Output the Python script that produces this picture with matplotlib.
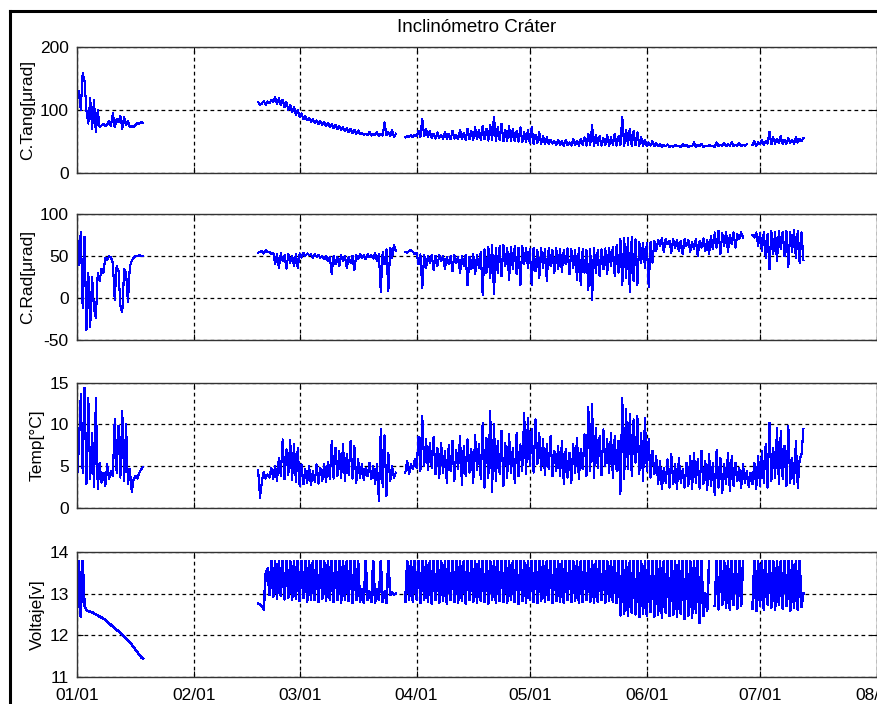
import numpy as np
import matplotlib
matplotlib.use('Agg')
import matplotlib.pyplot as plt
import matplotlib.dates as mdates
from matplotlib.lines import Line2D

nan = np.nan

# sampling: two readings per day, two recording periods
START1 = np.datetime64('2013-01-01T00:00')
START2 = np.datetime64('2013-02-18T00:00')
STEP_H = 12

# --- first period (01/01 - 01/18) ---
tang1 = [115, 130, 100, 158, 145, 99, 78, 118, 70, 115, 64, 100, 72, 75, 78, 74, 76, 82,
         74, 94, 72, 85, 80, 90, 70, 88, 75, 82, 72, 74, 73, 76, 79, 78, 80, 79]
rad1 = [77, 39, 79, -12, 73, -38, 30, -35, 25, -12, -24, 30, 20, 35, 30, 48, 45, 50,
        48, 42, -2, 38, 32, -10, -17, 35, 30, -5, 38, 44, 48, 50, 50, 51, 50, 50]
temp1 = [3.2, 7.4, 13.6, 4.2, 14.4, 2.8, 13.2, 3.4, 9.0, 2.5, 13.2, 2.2, 5.4, 3.0, 4.2, 2.6, 5.2, 3.4,
         4.4, 3.8, 10.6, 4.2, 9.8, 3.6, 11.6, 3.2, 10.0, 2.8, 4.6, 1.9, 3.4, 3.8, 3.5, 4.2, 4.6, 4.9]
volt1 = [12.50, 13.78, 12.45, 13.78, 12.70, 12.60, 12.58, 12.57, 12.55, 12.53, 12.50, 12.48,
         12.45, 12.43, 12.40, 12.37, 12.33, 12.29, 12.25, 12.21, 12.17, 12.13, 12.10, 12.06,
         12.02, 11.98, 11.93, 11.88, 11.83, 11.78, 11.72, 11.66, 11.60, 11.54, 11.48, 11.45]

# --- second period (02/18 - 07/12), rows of 10 days ---
tang2 = [
    112, 108, 110, 114, 108, 113, 110, 116, 112, 120, 109, 118, 108, 116, 104, 112, 100, 108, 96, 104,
    92, 100, 88, 94, 85, 90, 83, 87, 81, 85, 79, 83, 77, 82, 76, 80, 74, 79, 72, 77,
    71, 76, 69, 74, 68, 72, 66, 71, 64, 70, 63, 68, 62, 67, 61, 63, 60, 62, 60, 65,
    59, 61, 60, 64, 58, 62, 59, 80, 60, 64, 58, 68, 57, 62, nan, nan, nan, nan, 56, 58,
    57, 59, 56, 60, 58, 66, 57, 86, 58, 70, 56, 66, 55, 62, 54, 64, 55, 60, 54, 65,
    54, 62, 53, 66, 54, 60, 53, 68, 54, 63, 52, 70, 53, 66, 52, 72, 53, 68, 52, 74,
    53, 70, 51, 76, 52, 89, 51, 72, 52, 78, 50, 68, 51, 74, 50, 70, 50, 66, 49, 72,
    49, 64, 48, 68, 47, 72, 46, 60, 47, 64, 46, 58, 45, 56, 45, 52, 46, 50, 44, 52,
    44, 50, 43, 52, 44, 48, 43, 53, 44, 51, 43, 54, 44, 56, 43, 62, 44, 75, 43, 60,
    44, 58, 43, 55, 44, 60, 43, 56, 44, 62, 43, 58, 44, 89, 43, 68, 44, 70, 43, 66,
    44, 64, 43, 56, 43, 52, 42, 48, 43, 50, 42, 47, 42, 46, 41, 44, 42, 45, 41, 43,
    41, 44, 42, 43, 41, 45, 42, 44, 41, 43, 42, 48, 41, 44, 42, 46, 41, 43, 42, 44,
    42, 43, 41, 48, 42, 44, 43, 47, 42, 45, 43, 49, 42, 44, 43, 47, 42, 44, 43, 45,
    nan, nan, 44, 50, 43, 48, 45, 52, 44, 50, 46, 65, 45, 56, 46, 54, 47, 58, 45, 52,
    46, 55, 47, 52, 46, 56, 48, 54, 50, 55,
]
rad2 = [
    54, 55, 56, 53, 57, 55, 55, 52, 54, 40, 52, 36, 53, 44, 51, 35, 52, 42, 50, 38,
    52, 36, 53, 48, 54, 50, 53, 51, 52, 48, 52, 49, 51, 48, 50, 46, 50, 44, 49, 29,
    50, 40, 49, 38, 51, 44, 50, 36, 49, 42, 50, 33, 51, 46, 52, 48, 51, 46, 52, 49,
    51, 47, 53, 44, 52, 7, 55, 40, 58, 8, 60, 48, 63, 56, nan, nan, nan, nan, 55, 54,
    56, 57, 55, 52, 54, 40, 52, 12, 51, 36, 50, 42, 51, 33, 50, 38, 51, 44, 50, 35,
    49, 40, 50, 32, 51, 42, 49, 30, 50, 38, 51, 15, 49, 34, 52, 28, 51, 36, 55, 4,
    58, 30, 61, 24, 63, 5, 60, 30, 62, 26, 63, 38, 60, 22, 61, 34, 62, 28, 60, 15,
    62, 40, 60, 36, 58, 15, 60, 32, 57, 24, 59, 36, 58, 20, 60, 38, 57, 30, 59, 34,
    58, 31, 57, 40, 59, 28, 58, 36, 57, 22, 59, 15, 58, 30, 57, 10, 58, -2, 59, 30,
    57, 26, 58, 34, 59, 28, 60, 38, 61, 26, 63, 30, 70, 15, 72, 24, 71, 7, 73, 20,
    70, 15, 67, 42, 66, 36, 65, 13, 67, 42, 68, 56, 69, 62, 71, 55, 70, 64, 68, 54,
    70, 60, 69, 56, 68, 52, 70, 62, 69, 55, 67, 58, 70, 50, 68, 60, 71, 56, 69, 52,
    74, 58, 78, 60, 80, 52, 77, 62, 79, 55, 75, 64, 78, 60, 76, 70, 78, 72, nan, nan,
    nan, nan, 75, 72, 78, 62, 77, 56, 79, 48, 76, 34, 80, 52, 78, 44, 80, 58, 79, 50,
    80, 37, 78, 55, 81, 48, 80, 42, 78, 45,
]
temp2 = [
    4.5, 1.2, 3.2, 4.3, 3.5, 4.0, 3.6, 4.8, 3.5, 5.0, 3.2, 6.0, 3.8, 8.2, 3.4, 7.0, 3.9, 8.1, 3.3, 7.6,
    3.1, 7.2, 2.6, 5.2, 2.8, 4.6, 3.0, 5.0, 2.7, 4.4, 3.1, 5.2, 2.9, 4.8, 3.2, 5.3, 3.1, 5.5, 3.4, 8.0,
    3.5, 7.2, 3.8, 6.8, 3.6, 7.6, 3.2, 6.5, 3.9, 8.0, 3.5, 7.4, 3.0, 5.8, 3.6, 5.2, 3.3, 4.8, 3.8, 5.4,
    3.4, 5.0, 2.8, 5.3, 0.8, 9.5, 2.5, 8.7, 1.4, 6.6, 3.2, 5.0, 3.6, 4.2, nan, nan, nan, nan, 4.2, 5.6,
    4.0, 5.2, 4.6, 5.8, 4.8, 8.5, 4.4, 11.0, 5.0, 8.2, 4.5, 7.8, 4.8, 8.5, 4.0, 7.2, 3.6, 7.8, 4.2, 6.8,
    3.0, 7.5, 4.4, 8.0, 3.2, 6.9, 4.6, 8.6, 2.7, 7.4, 3.8, 8.2, 4.2, 7.0, 3.0, 8.7, 4.5, 7.6, 3.4, 10.2,
    2.4, 8.4, 3.6, 11.6, 1.9, 10.0, 3.2, 8.0, 4.0, 9.2, 2.6, 7.8, 3.6, 8.8, 4.2, 7.2, 3.0, 9.0, 3.8, 7.6,
    4.4, 11.4, 4.0, 10.8, 5.0, 9.5, 4.2, 10.6, 5.2, 9.0, 4.5, 8.2, 3.9, 7.6, 4.6, 8.6, 3.8, 6.8, 4.4, 7.4,
    3.8, 8.0, 2.8, 7.0, 3.6, 6.6, 3.0, 7.6, 4.2, 8.4, 3.4, 7.0, 4.6, 8.8, 3.8, 12.1, 4.4, 12.4, 3.6, 9.6,
    4.8, 8.6, 3.9, 9.4, 5.0, 8.2, 4.2, 9.0, 3.6, 8.6, 4.4, 8.0, 1.6, 13.2, 3.4, 11.8, 4.6, 11.2, 3.8, 10.6,
    5.4, 11.0, 4.0, 9.0, 3.2, 10.8, 4.4, 8.2, 3.6, 6.8, 4.0, 6.2, 2.8, 5.6, 2.2, 4.8, 3.0, 5.8, 2.4, 6.4,
    2.8, 5.2, 2.2, 6.0, 3.0, 4.6, 2.4, 5.4, 2.6, 6.2, 2.2, 6.6, 3.0, 5.8, 2.3, 6.8, 2.8, 5.6, 2.1, 6.4,
    2.6, 5.4, 1.5, 6.9, 2.4, 6.0, 1.8, 5.2, 2.8, 6.6, 2.0, 6.2, 2.6, 5.4, 3.2, 4.8, 2.4, 5.2, 3.0, 4.4,
    2.5, 4.2, 2.8, 5.4, 2.2, 6.2, 2.6, 6.8, 3.0, 7.6, 2.4, 10.2, 3.2, 7.2, 3.6, 9.6, 2.8, 9.2, 3.4, 7.4,
    2.6, 9.8, 3.0, 6.0, 2.8, 8.0, 2.4, 5.8, 6.4, 9.4,
]
volt2 = [
    12.76, 12.74, 12.70, 12.62, 13.48, 13.60, 12.96, 13.78, 12.92, 13.78, 12.88, 13.78, 12.94, 13.78, 12.86, 13.78, 12.90, 13.78, 12.84, 13.78,
    12.88, 13.78, 12.82, 13.78, 12.90, 13.78, 12.80, 13.78, 12.86, 13.78, 12.84, 13.78, 12.80, 13.78, 12.88, 13.78, 12.82, 13.78, 12.86, 13.78,
    12.80, 13.78, 12.84, 13.78, 12.78, 13.78, 12.86, 13.78, 12.82, 13.78, 12.78, 13.78, 12.84, 13.78, 12.80, 13.10, 12.78, 13.78, 12.84, 13.05,
    12.80, 13.78, 12.78, 13.10, 12.84, 13.78, 12.80, 13.05, 12.78, 13.78, 12.96, 13.02, 12.98, 13.00, nan, nan, nan, nan, 12.80, 13.78,
    12.84, 13.78, 12.80, 13.78, 12.86, 13.78, 12.78, 13.78, 12.84, 13.78, 12.80, 13.78, 12.76, 13.78, 12.84, 13.78, 12.78, 13.78, 12.82, 13.78,
    12.76, 13.78, 12.84, 13.78, 12.80, 13.78, 12.78, 13.78, 12.82, 13.78, 12.76, 13.78, 12.84, 13.78, 12.80, 13.78, 12.78, 13.78, 12.82, 13.78,
    12.80, 13.78, 12.76, 13.78, 12.84, 13.78, 12.78, 13.78, 12.82, 13.78, 12.80, 13.78, 12.78, 13.78, 12.84, 13.78, 12.80, 13.78, 12.76, 13.78,
    12.82, 13.78, 12.78, 13.78, 12.84, 13.78, 12.80, 13.78, 12.78, 13.78, 12.82, 13.78, 12.80, 13.78, 12.84, 13.78, 12.78, 13.78, 12.82, 13.78,
    12.80, 13.78, 12.78, 13.78, 12.84, 13.78, 12.80, 13.78, 12.82, 13.78, 12.78, 13.78, 12.80, 13.78, 12.84, 13.78, 12.80, 13.78, 12.78, 13.78,
    12.80, 13.78, 12.84, 13.78, 12.78, 13.78, 12.82, 13.78, 12.80, 13.78, 12.78, 13.78, 12.48, 13.78, 12.52, 13.78, 12.46, 13.78, 12.55, 13.78,
    12.50, 13.78, 12.44, 13.78, 12.52, 13.78, 12.48, 13.78, 12.56, 13.78, 12.45, 13.78, 12.50, 13.78, 12.42, 13.78, 12.54, 13.78, 12.46, 13.78,
    12.50, 13.78, 12.44, 13.78, 12.52, 13.78, 12.40, 13.78, 12.48, 13.78, 12.42, 13.78, 12.55, 13.78, 12.30, 13.78, 12.46, 13.00, 12.58, 13.78,
    nan, nan, 12.70, 13.78, 12.62, 13.78, 12.74, 13.78, 12.66, 13.78, 12.60, 13.78, 12.72, 13.78, 12.64, 13.78, 12.70, 13.78, nan, nan,
    nan, nan, 12.64, 13.78, 12.58, 13.78, 12.70, 13.78, 12.62, 13.78, 12.74, 13.78, 12.66, 13.78, 12.60, 13.78, 12.72, 13.78, 12.64, 13.78,
    12.70, 13.78, 12.58, 13.78, 12.66, 13.78, 12.62, 13.78, 12.68, 13.00,
]

title = 'Inclinómetro Cráter'
ylabels = ['C.Tang[μrad]', 'C.Rad[μrad]', 'Temp[°C]', 'Voltaje[v]']
ylims = [(0, 200), (-50, 100), (0, 15), (11, 14)]
yticks = [[0, 100, 200], [-50, 0, 50, 100], [0, 5, 10, 15], [11, 12, 13, 14]]
xlim = (np.datetime64('2013-01-01'), np.datetime64('2013-08-01'))

plt.rcParams['font.family'] = ['Liberation Sans', 'DejaVu Sans']
plt.rcParams['axes.unicode_minus'] = False


def times(start, n):
    return start + np.arange(n) * np.timedelta64(STEP_H, 'h')


W, H = 878, 704
fig = plt.figure(figsize=(W / 100, H / 100), dpi=100)

# axes boxes in pixels: (top, bottom)
rows = [(46.7, 172.7), (214, 340), (382.7, 507.7), (551.7, 677.3)]
left_px, right_px = 77, 877
line_w = [0.8, 0.8, 0.8, 1.1]

series = [(tang1, tang2), (rad1, rad2), (temp1, temp2), (volt1, volt2)]
for i, ((s1, s2), (top, bot)) in enumerate(zip(series, rows)):
    ax = fig.add_axes([left_px / W, 1 - bot / H, (right_px - left_px) / W, (bot - top) / H])
    for start, s in ((START1, s1), (START2, s2)):
        ax.plot(times(start, len(s)), s, color='#0000ff', lw=line_w[i], antialiased=False)
    ax.set_xlim(*xlim)
    ax.set_ylim(*ylims[i])
    ax.set_yticks(yticks[i])
    ax.xaxis.set_major_locator(mdates.MonthLocator())
    ax.xaxis.set_major_formatter(mdates.DateFormatter('%m/%d'))
    ax.grid(True, color='black', linestyle=(0, (3, 2.6)), linewidth=0.9)
    ax.tick_params(direction='in', top=True, right=True, length=4, labelsize=12.5,
                   colors='black')
    ax.tick_params(axis='y', pad=6)
    ax.tick_params(axis='x', pad=7.5)
    for sp in ax.spines.values():
        sp.set_color('#333333')
        sp.set_linewidth(1.0)
    if i < 3:
        ax.tick_params(labelbottom=False)
    ax.set_ylabel(ylabels[i], fontsize=12.5, labelpad=3)

fig.text(477 / W, 1 - 27 / H, title, ha='center', va='center', fontsize=13.5)

# window frame
fig.add_artist(Line2D([10 / W, 10 / W], [0, 1 - 10.5 / H], transform=fig.transFigure,
                      color='black', lw=2.2))
fig.add_artist(Line2D([10 / W, 1], [1 - 10.5 / H, 1 - 10.5 / H], transform=fig.transFigure,
                      color='black', lw=2.2))

fig.savefig('out.png', dpi=100)
